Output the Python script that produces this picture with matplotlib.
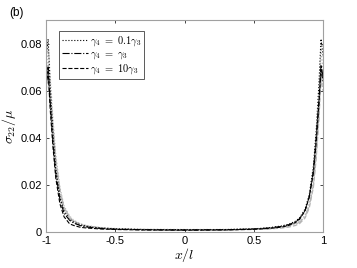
import numpy as np
import matplotlib
matplotlib.use("Agg")
import matplotlib.pyplot as plt

plt.rcParams['font.family'] = ['Liberation Sans', 'DejaVu Sans']
plt.rcParams['mathtext.fontset'] = 'cm'

# x/l sample points (shared by all curves)
x = [-1, -0.985, -0.97, -0.95, -0.93, -0.9, -0.87, -0.83, -0.8, -0.75, -0.7, -0.6, -0.5, -0.3, 0,
     0.3, 0.5, 0.6, 0.7, 0.75, 0.8, 0.83, 0.87, 0.9, 0.93, 0.95, 0.97, 0.985, 1]

# black curves
s_01 = [0.074, 0.082, 0.062, 0.042, 0.027, 0.015, 0.009, 0.0055, 0.0042, 0.003, 0.0024, 0.0017, 0.0014, 0.0011, 0.001,
        0.0011, 0.0014, 0.0018, 0.0026, 0.0033, 0.0046, 0.006, 0.0098, 0.0158, 0.028, 0.043, 0.063, 0.082, 0.075]
s_1 = [0.064, 0.070, 0.055, 0.038, 0.025, 0.014, 0.008, 0.005, 0.0038, 0.0027, 0.0021, 0.0015, 0.0012, 0.001, 0.0009,
       0.001, 0.0013, 0.0017, 0.0024, 0.0031, 0.0043, 0.0057, 0.0092, 0.015, 0.026, 0.040, 0.056, 0.071, 0.066]
s_10 = [0.062, 0.068, 0.052, 0.036, 0.023, 0.012, 0.0065, 0.0035, 0.0028, 0.002, 0.0017, 0.0013, 0.0011, 0.0009, 0.0008,
        0.0009, 0.0012, 0.0015, 0.0021, 0.0028, 0.004, 0.0054, 0.009, 0.0148, 0.025, 0.038, 0.054, 0.069, 0.064]

# grey curves
g_01 = [0.066, 0.080, 0.066, 0.048, 0.033, 0.019, 0.011, 0.0068, 0.005, 0.0035, 0.0027, 0.0019, 0.0015, 0.0012, 0.0011,
        0.0011, 0.0013, 0.0016, 0.0022, 0.0027, 0.0036, 0.0046, 0.0072, 0.012, 0.022, 0.036, 0.056, 0.078, 0.068]
g_1 = [0.062, 0.072, 0.060, 0.045, 0.031, 0.018, 0.0105, 0.0064, 0.0047, 0.0033, 0.0025, 0.0018, 0.0014, 0.0011, 0.001,
       0.001, 0.0012, 0.0015, 0.002, 0.0025, 0.0033, 0.0042, 0.0066, 0.011, 0.020, 0.033, 0.050, 0.068, 0.062]
g_10 = [0.060, 0.066, 0.056, 0.043, 0.030, 0.017, 0.010, 0.006, 0.0044, 0.0031, 0.0024, 0.0017, 0.0013, 0.001, 0.0009,
        0.0009, 0.0011, 0.0013, 0.0017, 0.0021, 0.0028, 0.0036, 0.006, 0.0102, 0.019, 0.031, 0.048, 0.065, 0.060]

labels = [r'$\gamma_4\ =\ 0.1\gamma_3$', r'$\gamma_4\ =\ \gamma_3$', r'$\gamma_4\ =\ 10\gamma_3$']

fig = plt.figure(figsize=(3.57, 2.68), dpi=100)
ax = fig.add_axes([0.129, 0.134, 0.776, 0.791])

grey = '#b4b4b4'
ax.plot(x, g_01, ':', color=grey, lw=0.9)
ax.plot(x, g_1, '-.', color=grey, lw=0.9)
ax.plot(x, g_10, '--', color=grey, lw=0.9)

ax.plot(x, s_01, ':', color='k', lw=0.8, label=labels[0])
ax.plot(x, s_1, '-.', color='k', lw=0.8, label=labels[1])
ax.plot(x, s_10, '--', color='k', lw=0.8, label=labels[2])

ax.set_xlim(-1, 1)
ax.set_ylim(0, 0.09)
ax.set_xticks([-1, -0.5, 0, 0.5, 1])
ax.set_xticklabels(['-1', '-0.5', '0', '0.5', '1'])
ax.set_yticks([0, 0.02, 0.04, 0.06, 0.08])
ax.set_yticklabels(['0', '0.02', '0.04', '0.06', '0.08'])
ax.tick_params(direction='in', top=True, right=True, length=2.5, width=0.6,
               labelsize=8, color='#262626', pad=3)
for sp in ax.spines.values():
    sp.set_color('#a0a0a0')
    sp.set_linewidth(0.8)

ax.set_xlabel(r'$x/l$', fontsize=10, labelpad=0)
ax.set_ylabel(r'$\sigma_{22}/\mu$', fontsize=10, labelpad=2)

leg = ax.legend(loc='upper left', bbox_to_anchor=(0.047, 0.948), borderaxespad=0,
                fontsize=7.5, handlelength=2.5, handletextpad=0.2, borderpad=0.25,
                labelspacing=0.1, fancybox=False, framealpha=1)
leg.get_frame().set_edgecolor('#404040')
leg.get_frame().set_linewidth(0.6)

fig.text(0.025, 0.94, '(b)', fontsize=8.5)

fig.savefig('out.png', dpi=100)
